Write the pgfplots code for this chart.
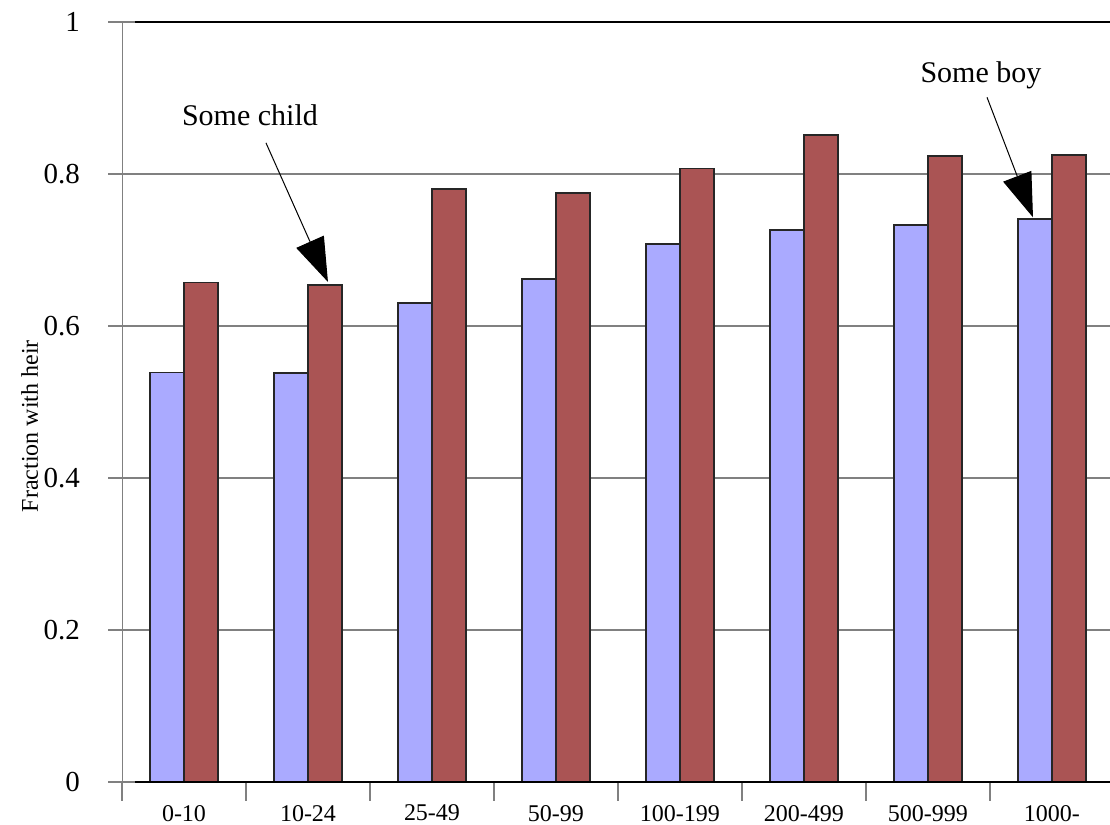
\documentclass[border=0pt]{standalone}
\usepackage{pgfplots}
\pgfplotsset{compat=1.18}
\usepackage{fontspec}
\setmainfont{Liberation Serif}
\usetikzlibrary{arrows.meta}

\definecolor{boyblue}{RGB}{170,170,255}
\definecolor{kidred}{RGB}{170,84,84}

\begin{document}
\begin{tikzpicture}
\begin{axis}[
    scale only axis,
    width=496pt, height=380pt,
    xmin=-0.5, xmax=7.5,
    ymin=0, ymax=1,
    clip=false,
    axis x line*=bottom,
    axis y line*=left,
    axis line style={-},
    x axis line style={draw=none},
    y axis line style={gray},
    ytick={0,0.2,...,1},
    ymajorgrids,
    grid style={gray, line width=0.6pt},
    ytick align=outside,
    major tick length=7pt,
    ytick style={gray, line width=0.6pt},
    xtick={0,...,7},
    xticklabels={0-10,10-24,25-49,50-99,100-199,200-499,500-999,1000-},
    minor xtick={-0.5,0.5,...,7.5},
    xtick align=center,
    minor tick length=9.5pt,
    major x tick style={draw=none},
    minor x tick style={gray, line width=0.6pt},
    /pgf/number format/assume math mode=true,
    yticklabel style={font=\fontsize{14.5}{17}\selectfont, xshift=-10.5pt},
    xticklabel style={font=\fontsize{12}{14}\selectfont, yshift=-1pt},
    ylabel={Fraction with heir},
    ylabel style={at={(rel axis cs:-0.093,0.468)}, anchor=center, font=\fontsize{12}{14}\selectfont},
    ybar=0pt,
    bar width=17pt,
]
\addplot[fill=boyblue, draw=black!85, line width=0.8pt] coordinates {
    (0,0.539) (1,0.538) (2,0.630) (3,0.662)
    (4,0.708) (5,0.726) (6,0.733) (7,0.741)
};
\addplot[fill=kidred, draw=black!85, line width=0.8pt] coordinates {
    (0,0.657) (1,0.654) (2,0.780) (3,0.775)
    (4,0.807) (5,0.851) (6,0.824) (7,0.825)
};

% frame lines top and bottom
\draw[black, line width=0.6pt] (axis cs:-0.395,0) -- (axis cs:7.5,0);
\draw[black, line width=0.6pt] (axis cs:-0.395,1) -- (axis cs:7.5,1);

% annotations
\node[font=\fontsize{15}{18}\selectfont] at (axis cs:0.532,0.878) {Some child};
\draw[-{Triangle[length=22pt,width=15pt]}, line width=0.5pt]
    (axis cs:0.661,0.841) -- (axis cs:1.161,0.658);
\node[font=\fontsize{15}{18}\selectfont] at (axis cs:6.427,0.930) {Some boy};
\draw[-{Triangle[length=22pt,width=15pt]}, line width=0.5pt]
    (axis cs:6.476,0.901) -- (axis cs:6.847,0.743);

\coordinate (bl) at (axis cs:-1.484,-0.0553);
\coordinate (tr) at (axis cs:7.468,1.029);
\end{axis}
\pgfresetboundingbox
\path[use as bounding box] (bl) rectangle (tr);
\end{tikzpicture}
\end{document}
